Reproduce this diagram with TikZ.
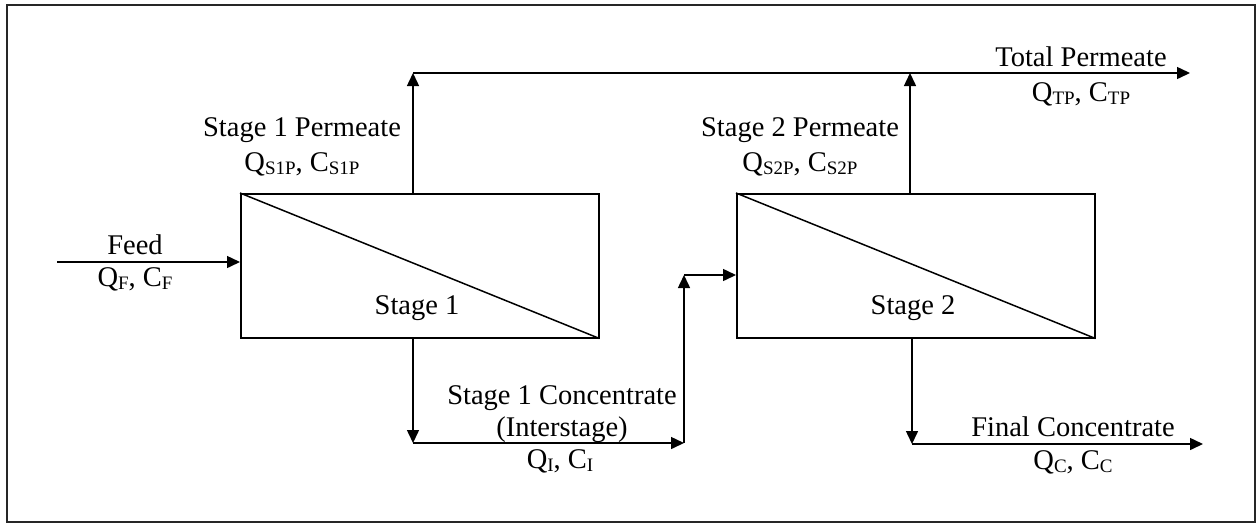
\documentclass[tikz,border=0pt]{standalone}
\usepackage{fontspec}
\setmainfont{Liberation Serif}
\usetikzlibrary{arrows.meta}
\newcommand{\sbs}[1]{\raisebox{-0.12em}{\fontsize{19}{19}\selectfont #1}}
\tikzset{
  stagebox/.style={draw, line width=1.5pt, minimum width=358pt, minimum height=144pt, anchor=north west, inner sep=0pt},
  flow/.style={line width=1.5pt, -{Triangle[length=13pt,width=12pt]}},
  plain/.style={line width=1.5pt},
  lbl/.style={anchor=base, inner sep=0pt, font=\fontsize{28.5}{32}\selectfont, align=center}
}
\begin{document}
\begin{tikzpicture}[x=1pt,y=-1pt]
\useasboundingbox (0,0) rectangle (1257,523);
\draw[line width=2pt, black!85] (7,5) rectangle (1255,522);
% stage boxes
\node[stagebox] (s1) at (240,193) {};
\node[stagebox] (s2) at (736,193) {};
\draw[plain] (s1.north west) -- (s1.south east);
\draw[plain] (s2.north west) -- (s2.south east);
% coordinates
\coordinate (feedin) at (57,262);
\coordinate (t1) at (413,73);
\coordinate (t2) at (910,73);
\coordinate (tend) at (1190,73);
\coordinate (c1) at (413,443);
\coordinate (c2) at (684,443);
\coordinate (c3) at (684,275);
\coordinate (c4) at (912,444);
\coordinate (cend) at (1203,444);
% connectors
\draw[flow] (feedin) -- (s1.west |- feedin);
\draw[flow] (s1.north -| t1) -- (t1);
\draw[flow] (t1) -- (tend);
\draw[flow] (s2.north -| t2) -- (t2);
\draw[flow] (s1.south -| c1) -- (c1);
\draw[flow] (c1) -- (c2);
\draw[flow] (c2) -- (c3);
\draw[flow] (c3) -- (s2.west |- c3);
\draw[flow] (s2.south -| c4) -- (c4);
\draw[flow] (c4) -- (cend);
% labels
\node[lbl] (lfeed) at (135,254) {Feed};
\node[lbl] (lfeedq) at (135,286) {Q\sbs{F}, C\sbs{F}};
\node[lbl] (ls1p) at (302,136) {Stage 1 Permeate};
\node[lbl] (ls1pq) at (302,171) {Q\sbs{S1P}, C\sbs{S1P}};
\node[lbl] (ls2p) at (800,136) {Stage 2 Permeate};
\node[lbl] (ls2pq) at (800,171) {Q\sbs{S2P}, C\sbs{S2P}};
\node[lbl] (ltp) at (1081,66) {Total Permeate};
\node[lbl] (ltpq) at (1081,101) {Q\sbs{TP}, C\sbs{TP}};
\node[lbl] (lst1) at (417,314) {Stage 1};
\node[lbl] (lst2) at (913,314) {Stage 2};
\node[lbl] (lsc1) at (562,404) {Stage 1 Concentrate};
\node[lbl] (lint) at (562,436) {(Interstage)};
\node[lbl] (lqi) at (560,468) {Q\sbs{I}, C\sbs{I}};
\node[lbl] (lfc) at (1073,436) {Final Concentrate};
\node[lbl] (lfcq) at (1073,469) {Q\sbs{C}, C\sbs{C}};
\end{tikzpicture}
\end{document}
